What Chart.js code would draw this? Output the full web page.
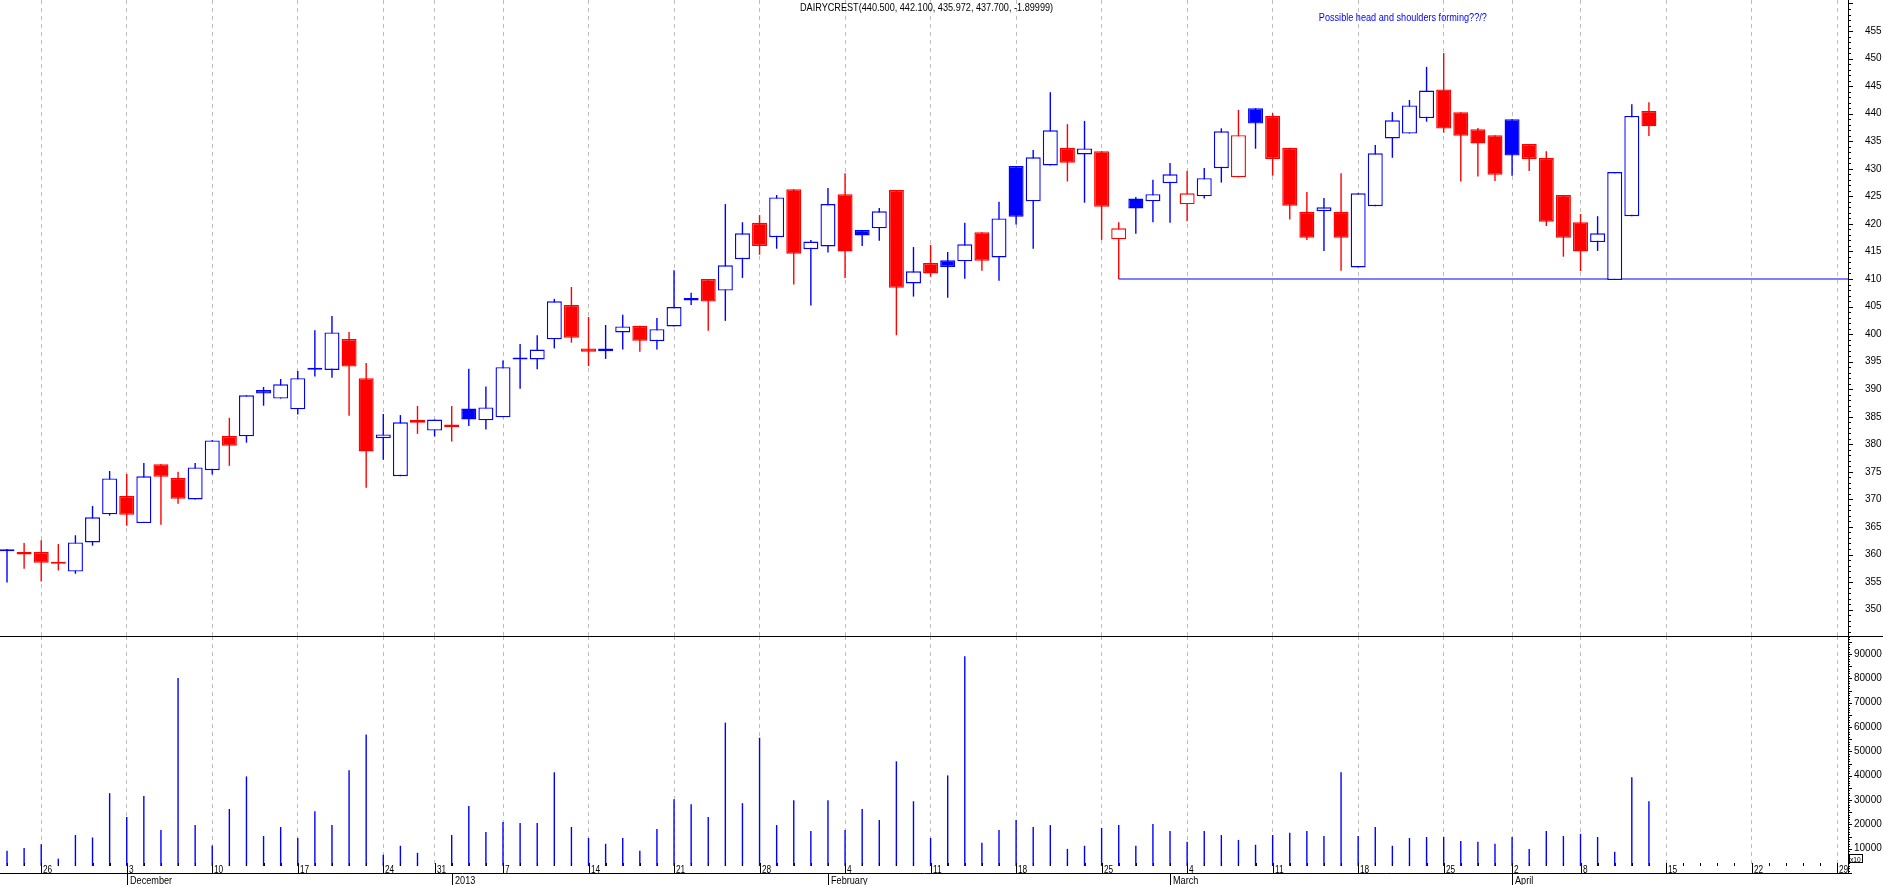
<!DOCTYPE html>
<html>
<head>
<meta charset="utf-8">
<script src="https://cdn.jsdelivr.net/npm/chart.js@4.4.1/dist/chart.umd.min.js"></script>
<style>
  html, body { margin: 0; padding: 0; background: #fff; }
  #wrap { position: relative; width: 1883px; height: 885px; overflow: hidden; }
  #pricechart { position: absolute; left: 0; top: 0; }
  #volchart { position: absolute; left: 0; top: 636px; }
</style>
</head>
<body>
<div id="wrap">
  <canvas id="pricechart" width="1883" height="637"></canvas>
  <canvas id="volchart" width="1883" height="249"></canvas>
</div>
<script>
// daily candles, 22 Nov 2012 .. 12 Apr 2013 (trading days only)
var opens = [360.6, 360.45, 360.45, 358.6, 356.9, 362.2, 367.3, 370.6, 365.7, 376.4,
  373.9, 370.0, 375.3, 381.5, 381.45, 389.85, 388.3, 386.35, 393.55, 393.5,
  399.1, 392.0, 381.1, 374.2, 384.4, 382.5, 383.6, 386.5, 384.35, 384.9,
  395.4, 395.4, 399.05, 405.3, 397.4, 396.9, 400.3, 401.5, 398.7, 401.4,
  406.55, 410.0, 407.9, 413.6, 420.2, 417.6, 426.3, 415.4, 415.9, 425.4,
  418.9, 419.2, 426.15, 409.2, 412.9, 413.4, 413.2, 418.5, 413.9, 430.5,
  424.1, 430.6, 433.8, 432.6, 433.2, 417.2, 424.6, 424.1, 427.4, 423.55,
  425.0, 430.1, 428.45, 441.0, 439.6, 433.8, 422.2, 422.3, 422.2, 412.1,
  423.2, 435.5, 436.4, 439.2, 444.4, 440.25, 437.2, 436.1, 439.0, 434.5,
  432.0, 425.25, 420.3, 416.7, 409.8, 421.4, 440.5];
var highs = [361.0, 362.1, 362.6, 361.9, 363.5, 368.8, 375.15, 374.6, 376.6, 376.4,
  375.0, 376.6, 380.8, 384.8, 388.9, 390.4, 391.85, 393.3, 400.7, 403.3,
  400.4, 394.75, 385.5, 385.3, 386.95, 384.5, 386.95, 393.7, 390.5, 395.2,
  398.2, 399.8, 406.4, 408.55, 403.1, 401.65, 403.5, 401.5, 402.9, 411.6,
  407.5, 410.0, 423.6, 420.3, 421.6, 425.25, 426.3, 417.1, 426.5, 429.2,
  418.9, 422.9, 426.15, 415.8, 416.2, 414.9, 420.2, 418.5, 424.0, 430.5,
  433.4, 443.9, 438.1, 438.7, 433.2, 420.3, 424.9, 428.0, 431.05, 429.6,
  430.15, 437.35, 440.7, 441.0, 440.1, 433.8, 425.8, 424.7, 429.2, 425.55,
  434.3, 440.3, 442.5, 448.5, 451.0, 440.25, 437.4, 436.1, 439.0, 434.5,
  433.2, 425.25, 421.8, 421.4, 429.4, 441.7, 442.1];
var lows = [354.9, 357.4, 355.1, 357.1, 356.5, 361.6, 367.05, 365.2, 365.7, 365.4,
  369.2, 370.0, 374.5, 376.1, 380.3, 387.0, 388.3, 385.4, 392.3, 392.1,
  385.2, 372.1, 377.2, 374.2, 381.9, 381.4, 380.5, 383.3, 382.7, 384.9,
  390.1, 393.6, 397.4, 398.45, 394.2, 395.5, 397.2, 396.8, 397.2, 401.4,
  405.3, 400.6, 402.4, 410.2, 414.4, 415.5, 409.0, 405.2, 414.8, 410.2,
  416.0, 416.95, 399.8, 406.8, 410.4, 406.6, 410.05, 411.5, 409.7, 419.9,
  415.5, 430.6, 427.7, 423.85, 417.1, 410.0, 418.2, 420.3, 420.2, 420.5,
  424.6, 427.5, 428.45, 433.65, 428.75, 420.8, 417.1, 415.1, 411.5, 412.1,
  423.2, 432.0, 436.4, 438.55, 436.55, 427.7, 428.6, 427.8, 428.75, 429.6,
  419.6, 414.05, 411.45, 415.1, 409.8, 421.4, 435.972];
var closes = [360.9, 360.0, 358.5, 358.3, 362.2, 366.75, 373.8, 367.2, 374.2, 374.1,
  370.1, 375.8, 380.7, 379.75, 388.9, 389.2, 390.9, 392.0, 393.85, 400.3,
  394.1, 378.7, 381.8, 384.0, 383.9, 384.5, 383.1, 384.5, 386.7, 394.0,
  395.45, 397.2, 405.95, 399.35, 396.8, 397.4, 401.4, 398.8, 400.9, 404.9,
  406.1, 405.9, 412.5, 418.3, 416.0, 424.8, 414.6, 416.8, 423.6, 415.0,
  417.9, 422.3, 408.4, 411.4, 411.0, 412.2, 416.3, 413.3, 421.0, 421.3,
  432.1, 437.0, 431.1, 433.7, 423.1, 419.2, 422.8, 425.4, 429.0, 425.55,
  428.3, 436.8, 436.1, 438.2, 431.8, 423.3, 417.5, 423.0, 417.5, 425.55,
  432.8, 438.8, 441.5, 444.2, 437.3, 436.0, 434.6, 428.9, 432.4, 431.8,
  420.4, 417.5, 415.0, 418.3, 429.4, 439.6, 437.7];
var volumes = [9100, 10300, 11800, 5900, 15600, 14600, 32800, 23000, 31600, 17700,
  80100, 19700, 11300, 26300, 39700, 15200, 18900, 14400, 25400, 19700,
  42200, 56900, 7500, 11200, 8300, 0, 15600, 27500, 16900, 21000,
  20500, 20500, 41400, 18900, 14400, 12000, 14400, 9100, 18100, 30300,
  28300, 23000, 61800, 28700, 55600, 19700, 29900, 17300, 29900, 17700,
  26300, 21800, 45900, 29500, 14400, 40100, 89100, 12400, 17700, 21800,
  18900, 19700, 9900, 11200, 18500, 19700, 11200, 20100, 17300, 12800,
  17300, 15600, 13600, 11600, 15600, 16500, 17300, 15200, 41400, 15200,
  18900, 11200, 14400, 14800, 14800, 13200, 12800, 12000, 14800, 9900,
  17300, 15200, 16100, 14800, 8700, 39300, 29500];

// axis: trading-day index, the last few days have no data yet
var totalDays = 108;
var weekTickIdx = [2, 7, 12, 17, 22, 25, 29, 34, 39, 44, 49, 54, 59, 64, 69, 74, 79, 84, 88, 92, 97, 102, 107];
var weekTickLabels = ['26', '3', '10', '17', '24', '31', '7', '14', '21', '28', '4', '11', '18', '25', '4', '11', '18', '25', '2', '8', '15', '22', '29'];
var monthTickIdx = [7, 26, 48, 68, 88];
var monthTickLabels = ['December', '2013', 'February', 'March', 'April'];
var priceTicks = [350, 355, 360, 365, 370, 375, 380, 385, 390, 395, 400, 405, 410, 415, 420, 425, 430, 435, 440, 445, 450, 455];
var volumeTicks = [10000, 15000, 20000, 25000, 30000, 35000, 40000, 45000, 50000, 55000, 60000, 65000, 70000, 75000, 80000, 85000, 90000];

// drawn support line and note
var supportLine = [{x: 65, y: 410}, {x: 107.64, y: 410}];
var noteText = 'Possible head and shoulders forming??/?';
var noteAt = {x: 76.7, y: 457.3};
var chartTitle = 'DAIRYCREST(440.500, 442.100, 435.972, 437.700, -1.89999)';

var BLUE = '#0000ff', RED = '#ff0000';
var FONT = '"Liberation Sans", Arial, sans-serif';
var xMin = -0.41, xMax = 107.64;

// hollow when close > open, blue when close >= previous close
var candleColor = [], candleFill = [];
for (var i = 0; i < opens.length; i++) {
    var prev = i > 0 ? closes[i - 1] : opens[i];
    var c = closes[i] >= prev ? BLUE : RED;
    candleColor.push(c);
    candleFill.push(closes[i] > opens[i] ? '#ffffff' : c);
}

var wickData = [], bodyData = [], volData = [];
for (var i = 0; i < opens.length; i++) {
    wickData.push({x: i, y: [lows[i], highs[i]]});
    bodyData.push({x: i, y: [Math.min(opens[i], closes[i]), Math.max(opens[i], closes[i])]});
    volData.push({x: i, y: volumes[i]});
}

function xAxis() {
    return {
        type: 'linear', min: xMin, max: xMax, offset: false,
        afterBuildTicks: function (s) { s.ticks = weekTickIdx.map(function (v) { return {value: v}; }); },
        afterFit: function (s) { s.height = 0; s.paddingLeft = 0; s.paddingRight = 0; },
        ticks: {display: false},
        grid: {color: '#bdbdbd', lineWidth: 1, drawTicks: false, offset: false},
        border: {display: false, dash: [4, 4]}
    };
}

// narrow text, like the small bitmap font of the original
function narrowText(ctx, text, x, y, size) {
    ctx.save();
    ctx.font = size + 'px ' + FONT;
    ctx.translate(x, y);
    ctx.scale(0.83, 1);
    ctx.fillText(text, 0, 0);
    ctx.restore();
}

var priceDecor = {
    id: 'priceDecor',
    afterDraw: function (chart) {
        var ctx = chart.ctx, y = chart.scales.y, x = chart.scales.x, a = chart.chartArea;
        ctx.save();
        ctx.strokeStyle = '#000';
        ctx.lineWidth = 1;
        ctx.beginPath();
        for (var v = Math.ceil(y.min); v <= y.max; v++) {
            var py = Math.round(y.getPixelForValue(v)) + 0.5;
            ctx.moveTo(a.right, py);
            ctx.lineTo(a.right + (v % 5 === 0 ? 5 : 3), py);
        }
        ctx.moveTo(0, a.bottom + 0.5);
        ctx.lineTo(chart.width, a.bottom + 0.5);
        ctx.stroke();

        ctx.textAlign = 'left';
        ctx.textBaseline = 'middle';
        ctx.fillStyle = '#000';
        narrowText(ctx, chartTitle, 800, 8, 11);
        ctx.fillStyle = BLUE;
        narrowText(ctx, noteText, x.getPixelForValue(noteAt.x), y.getPixelForValue(noteAt.y), 11);
        ctx.restore();
    }
};

var volDecor = {
    id: 'volDecor',
    afterDraw: function (chart) {
        var ctx = chart.ctx, y = chart.scales.y, x = chart.scales.x, a = chart.chartArea;
        ctx.save();
        // strip for the day numbers
        ctx.fillStyle = '#fff';
        ctx.fillRect(a.left, a.bottom - 7, a.right - a.left, 7);

        ctx.strokeStyle = '#000';
        ctx.lineWidth = 1;
        ctx.beginPath();
        for (var i = 0; i < totalDays; i++) {
            var px = Math.round(x.getPixelForValue(i)) + 0.5;
            ctx.moveTo(px, a.bottom - 10);
            ctx.lineTo(px, a.bottom - 7);
        }
        for (var k = 0; k < weekTickIdx.length; k++) {
            var px = Math.round(x.getPixelForValue(weekTickIdx[k])) + 0.5;
            ctx.moveTo(px, a.bottom - 7);
            ctx.lineTo(px, a.bottom);
        }
        for (var k = 0; k < monthTickIdx.length; k++) {
            var px = Math.round(x.getPixelForValue(monthTickIdx[k])) + 0.5;
            ctx.moveTo(px, a.bottom);
            ctx.lineTo(px, chart.height);
        }
        // right axis minor ticks
        for (var v = 0; v <= y.max; v += 1000) {
            var py = Math.round(y.getPixelForValue(v)) + 0.5;
            ctx.moveTo(a.right, py);
            ctx.lineTo(a.right + (v % 5000 === 0 ? 4 : 2), py);
        }
        ctx.moveTo(0, a.top + 0.5);
        ctx.lineTo(chart.width, a.top + 0.5);
        ctx.moveTo(0, a.bottom + 0.5);
        ctx.lineTo(a.right + 1, a.bottom + 0.5);
        ctx.stroke();

        ctx.fillStyle = '#000';
        ctx.textAlign = 'left';
        ctx.textBaseline = 'alphabetic';
        for (var k = 0; k < weekTickIdx.length; k++) {
            var px = Math.round(x.getPixelForValue(weekTickIdx[k]));
            narrowText(ctx, weekTickLabels[k], px + 2, a.bottom - 0.5, 10);
        }
        for (var k = 0; k < monthTickIdx.length; k++) {
            var px = Math.round(x.getPixelForValue(monthTickIdx[k]));
            narrowText(ctx, monthTickLabels[k], px + 3, a.bottom + 11, 11);
        }
        // multiplier box
        ctx.fillStyle = '#fff';
        ctx.fillRect(a.right + 1, a.bottom - 19, 14, 9);
        ctx.strokeRect(a.right + 1.5, a.bottom - 18.5, 13, 8);
        ctx.fillStyle = '#000';
        narrowText(ctx, 'x10', a.right + 2, a.bottom - 11.5, 8);
        ctx.restore();
    }
};

new Chart(document.getElementById('pricechart'), {
    type: 'bar',
    data: {
        datasets: [{
            label: 'body',
            data: bodyData,
            order: 0,
            grouped: false,
            barThickness: 15,
            minBarLength: 2,
            backgroundColor: candleFill,
            borderColor: candleColor,
            borderWidth: 1.4,
            borderSkipped: false,
            inflateAmount: 0
        }, {
            label: 'wick',
            data: wickData,
            order: 1,
            grouped: false,
            barThickness: 1.4,
            backgroundColor: candleColor,
            borderWidth: 0,
            inflateAmount: 0
        }, {
            type: 'line',
            label: 'support',
            data: supportLine,
            order: 2,
            borderColor: BLUE,
            borderWidth: 1.2,
            pointRadius: 0,
            fill: false
        }]
    },
    options: {
        responsive: false,
        devicePixelRatio: 1,
        animation: false,
        events: [],
        layout: {padding: {left: 0, right: 0, top: 0, bottom: 1}},
        plugins: {legend: {display: false}, tooltip: {enabled: false}},
        scales: {
            x: xAxis(),
            y: {
                position: 'right',
                min: 345.21, max: 460.635,
                afterBuildTicks: function (s) { s.ticks = priceTicks.map(function (v) { return {value: v}; }); },
                afterFit: function (s) { s.width = 35; s.paddingTop = 0; s.paddingBottom = 0; },
                grid: {display: false, drawTicks: false},
                border: {display: true, color: '#000', width: 1},
                ticks: {padding: 17, color: '#000', font: {family: FONT, size: 10}}
            }
        }
    },
    plugins: [priceDecor]
});

new Chart(document.getElementById('volchart'), {
    type: 'bar',
    data: {
        datasets: [{
            label: 'volume',
            data: volData,
            grouped: false,
            barThickness: 1.4,
            backgroundColor: BLUE,
            borderWidth: 0,
            inflateAmount: 0
        }]
    },
    options: {
        responsive: false,
        devicePixelRatio: 1,
        animation: false,
        events: [],
        layout: {padding: {left: 0, right: 0, top: 0, bottom: 12}},
        plugins: {legend: {display: false}, tooltip: {enabled: false}},
        scales: {
            x: xAxis(),
            y: {
                position: 'right',
                min: 0, max: 97400,
                afterBuildTicks: function (s) { s.ticks = volumeTicks.map(function (v) { return {value: v}; }); },
                afterFit: function (s) { s.width = 35; s.paddingTop = 0; s.paddingBottom = 0; },
                grid: {display: false, drawTicks: false},
                border: {display: true, color: '#000', width: 1},
                ticks: {
                    padding: 6, color: '#000', font: {family: FONT, size: 10},
                    callback: function (v) { return String(v); }
                }
            }
        }
    },
    plugins: [volDecor]
});
</script>
</body>
</html>
